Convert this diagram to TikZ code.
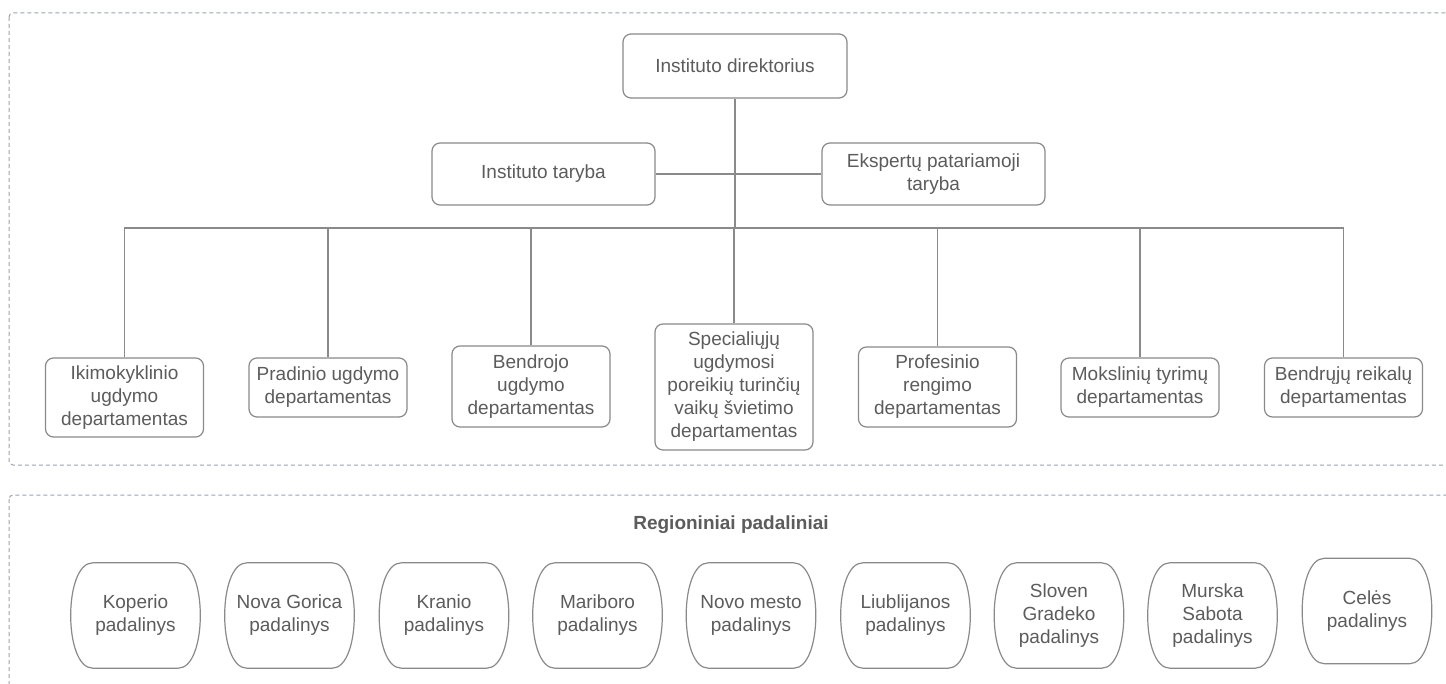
\documentclass[tikz,border=0pt]{standalone}
\usepackage{fontspec}
\setmainfont{Liberation Sans}
\usetikzlibrary{calc}
\definecolor{txt}{HTML}{5C5C5C}
\definecolor{edge}{HTML}{8A8A8A}
\definecolor{dash}{HTML}{9AA3AD}
\tikzset{
  box/.style={draw=edge, line width=1.2pt, rounded corners=8pt, align=center, text=txt,
    font=\fontsize{19}{23}\selectfont, minimum width=158pt, inner sep=2pt},
  region/.style={align=center, text=txt, font=\fontsize{19}{23}\selectfont,
    minimum width=129pt, minimum height=105pt, inner sep=0pt},
  conn/.style={draw=edge, line width=1.2pt},
  barrel/.style={draw=edge, line width=1.2pt},
  frame/.style={draw=dash, line width=1pt, dash pattern=on 4pt off 3pt, rounded corners=4pt}
}
\begin{document}
\begin{tikzpicture}[x=1pt,y=-1pt]
\useasboundingbox (0,0) rectangle (1446,684);
\clip (0,0) rectangle (1446,684);
\fill[white] (0,0) rectangle (1446,684);
% frames
\draw[frame] (9,13) rectangle (1470,465);
\draw[frame] (9,495) rectangle (1470,710);
% top
\node[box, minimum width=224pt, minimum height=64pt] (dir) at (735,66) {Instituto direktorius};
\node[box, minimum width=223pt, minimum height=62pt] (it) at (543.5,174) {Instituto taryba};
\node[box, minimum width=223pt, minimum height=62pt] (ep) at (933.5,174) {Ekspertų patariamoji\\taryba};
\coordinate (bus) at (735,228);
% departments
\node[box, minimum height=79pt] (d1) at (124.5,397.5) {Ikimokyklinio\\ugdymo\\departamentas};
\node[box, minimum height=59pt] (d2) at (328,387.5) {Pradinio ugdymo\\departamentas};
\node[box, minimum height=81pt] (d3) at (531,386.5) {Bendrojo\\ugdymo\\departamentas};
\node[box, minimum height=126pt] (d4) at (734,387) {Specialiųjų\\ugdymosi\\poreikių turinčių\\vaikų švietimo\\departamentas};
\node[box, minimum height=80pt] (d5) at (937.5,387) {Profesinio\\rengimo\\departamentas};
\node[box, minimum height=59pt] (d6) at (1140,387.5) {Mokslinių tyrimų\\departamentas};
\node[box, minimum height=59pt] (d7) at (1343.5,387.5) {Bendrųjų reikalų\\departamentas};
% connectors
\draw[conn] (it.east) -- (ep.west);
\draw[conn] (dir.south) -- (dir.south |- bus);
\draw[conn] (d1.north) -- (d1.north |- bus) -- (d7.north |- bus) -- (d7.north);
\foreach \n in {d2,d3,d4,d5,d6} \draw[conn] (\n.north) -- (\n.north |- bus);
% regional
\node[text=txt, font=\fontsize{19}{23}\selectfont\bfseries] (reg) at (731,525) {Regioniniai padaliniai};
\node[region] (r1) at (135.5,615.5) {Koperio\\padalinys};
\node[region] (r2) at (289.5,615.5) {Nova Gorica\\padalinys};
\node[region] (r3) at (444,615.5) {Kranio\\padalinys};
\node[region] (r4) at (597.5,615.5) {Mariboro\\padalinys};
\node[region] (r5) at (751,615.5) {Novo mesto\\padalinys};
\node[region] (r6) at (905.5,615.5) {Liublijanos\\padalinys};
\node[region] (r7) at (1059,615.5) {Sloven\\Gradeko\\padalinys};
\node[region] (r8) at (1212.5,615.5) {Murska\\Sabota\\padalinys};
\node[region] (r9) at (1367,611) {Celės\\padalinys};
\foreach \n in {r1,r2,r3,r4,r5,r6,r7,r8,r9}
  \draw[barrel] ($(\n.north west)+(22,0)$) -- ($(\n.north east)+(-22,0)$)
    .. controls ($(\n.north east)+(7.5,0)$) and ($(\n.south east)+(7.5,0)$) .. ($(\n.south east)+(-22,0)$)
    -- ($(\n.south west)+(22,0)$)
    .. controls ($(\n.south west)+(-7.5,0)$) and ($(\n.north west)+(-7.5,0)$) .. cycle;
\end{tikzpicture}
\end{document}
